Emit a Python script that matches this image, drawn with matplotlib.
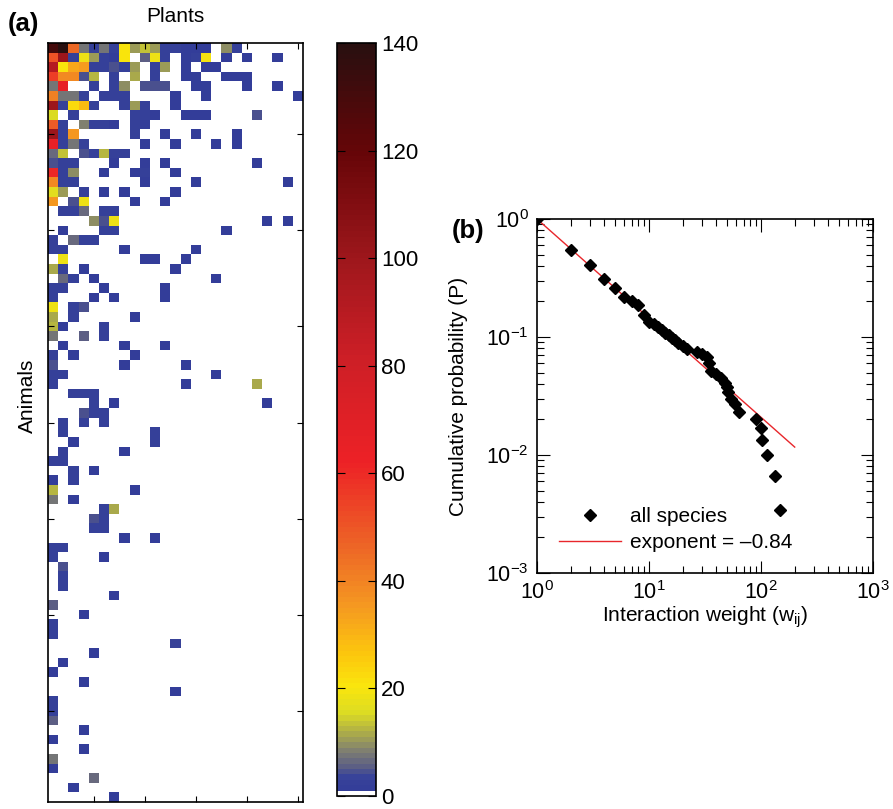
import matplotlib
matplotlib.use('Agg')
import matplotlib.pyplot as plt
from matplotlib.colors import LinearSegmentedColormap
import numpy as np

plt.rcParams['font.family'] = ['Liberation Sans', 'DejaVu Sans']
plt.rcParams['mathtext.fontset'] = 'custom'
plt.rcParams['mathtext.rm'] = 'Liberation Sans'
plt.rcParams['mathtext.it'] = 'Liberation Sans:italic'

# (a) interaction matrix: per animal (row), list of (plant column, weight)
n_plants = 25
animal_links = [
    [(0,130),(1,140),(2,45),(3,7),(4,2),(5,7),(6,2),(7,20),(8,10),(9,13),(10,10),(11,2),(12,2),(13,1),(14,1),(15,1),(17,9),(18,2)],
    [(0,50),(1,100),(2,2),(3,18),(4,10),(5,2),(6,1),(7,20),(9,5),(10,18),(11,2),(13,1),(14,2),(15,19),(17,1),(19,1),(22,1)],
    [(0,90),(1,20),(2,32),(3,34),(4,2),(5,2),(6,4),(7,2),(8,10),(10,2),(11,10),(13,1),(15,1),(16,1)],
    [(0,55),(1,38),(2,38),(3,4),(4,12),(6,2),(8,11),(10,2),(13,1),(14,1),(17,1),(18,1),(19,1)],
    [(0,7),(1,65),(4,2),(6,2),(7,9),(9,4),(10,4),(11,4),(14,1),(15,1),(19,1),(22,1)],
    [(0,40),(1,7),(2,7),(3,2),(5,2),(6,2),(7,2),(12,1),(15,1),(24,1)],
    [(0,100),(1,2),(2,22),(3,28),(4,2),(7,2),(8,10),(9,2),(12,1)],
    [(0,15),(2,2),(8,2),(9,2),(10,1),(13,1),(14,1),(15,1),(20,4)],
    [(0,48),(1,2),(3,8),(4,2),(5,2),(6,1),(8,2),(9,1)],
    [(0,100),(1,2),(2,35),(8,2),(11,1),(14,1),(18,1)],
    [(0,65),(1,2),(2,7),(3,2),(9,1),(12,1),(16,1),(18,1)],
    [(0,6),(1,13),(3,4),(4,2),(5,12),(6,2),(7,2)],
    [(0,4),(1,2),(2,2),(6,1),(9,1),(11,1),(20,1)],
    [(0,60),(1,2),(2,9),(5,1),(8,1),(9,2),(12,1)],
    [(0,38),(1,2),(2,2),(9,1),(14,1),(23,1)],
    [(0,16),(1,10),(3,2),(5,1),(7,1),(12,1)],
    [(0,35),(2,4),(3,18),(8,1),(11,1)],
    [(1,2),(2,2),(3,6),(5,2),(6,2)],
    [(4,9),(5,4),(6,18),(21,1),(23,1)],
    [(1,1),(5,2),(6,2),(17,1)],
    [(0,2),(2,6),(3,2),(4,2)],
    [(0,2),(1,2),(7,1),(14,1)],
    [(1,18),(9,1),(10,1),(13,1)],
    [(0,11),(1,2),(3,1),(12,1)],
    [(1,6),(2,2),(4,1),(16,1)],
    [(0,2),(1,2),(5,1),(11,1)],
    [(0,2),(4,1),(6,1),(11,1)],
    [(0,18),(2,2),(3,4)],
    [(0,11),(2,2),(8,1)],
    [(0,12),(1,1),(5,2)],
    [(0,7),(3,5),(5,2)],
    [(1,1),(7,1),(11,1)],
    [(0,2),(2,1),(8,1)],
    [(0,4),(7,1),(13,1)],
    [(0,2),(1,2),(16,1)],
    [(0,2),(13,1),(20,11)],
    [(2,2),(3,2),(4,2)],
    [(4,2),(6,1),(21,1)],
    [(3,4),(4,2),(5,2)],
    [(1,2),(3,2),(5,2)],
    [(1,2),(10,2)],
    [(2,1),(10,2)],
    [(1,2),(7,1)],
    [(0,2),(1,2)],
    [(2,2),(4,1)],
    [(0,1),(2,2)],
    [(0,12),(8,1)],
    [(0,7),(2,1)],
    [(5,2),(6,11)],
    [(4,4),(5,2)],
    [(4,2),(5,2)],
    [(7,1),(10,1)],
    [(0,2),(1,2)],
    [(0,2),(5,1)],
    [(1,4)],
    [(1,2)],
    [(1,2)],
    [(6,1)],
    [(0,5)],
    [(3,1)],
    [(0,2)],
    [(0,2)],
    [(12,3)],
    [(4,1)],
    [(1,1)],
    [(0,1)],
    [(3,1)],
    [(12,1)],
    [(0,2)],
    [(0,2)],
    [(0,5)],
    [(3,1)],
    [(0,1)],
    [(3,1)],
    [(0,7)],
    [(0,1)],
    [(4,6)],
    [(2,1)],
    [(6,1)],
]
cbar_ticks = [0, 20, 40, 60, 80, 100, 120, 140]

# (b) cumulative distribution of interaction weights
wij = [1, 2, 3, 4, 5, 6, 7, 8, 9, 10, 11, 12, 13, 14, 15, 16, 17, 18, 20, 22,
       27, 30, 33, 34, 36, 40, 44, 48, 50, 51, 54, 58, 64, 90, 101, 103, 114, 133, 147]
cum_p = [1.0, 0.55, 0.41, 0.31, 0.26, 0.22, 0.20, 0.185, 0.155, 0.135, 0.128, 0.121, 0.115,
         0.109, 0.103, 0.098, 0.094, 0.089, 0.084, 0.079,
         0.075, 0.072, 0.068, 0.060, 0.052, 0.049, 0.045, 0.041, 0.038, 0.034, 0.030, 0.027,
         0.023, 0.020, 0.0168, 0.0134, 0.010, 0.0066, 0.0034]
fit_exponent = -0.84
fit_range = (1, 200)

matrix = np.zeros((len(animal_links), n_plants))
for r, links in enumerate(animal_links):
    for c, w in links:
        matrix[r, c] = w

cmap = LinearSegmentedColormap.from_list('web', [
    (0.0, (1, 1, 1)), (0.005, (1, 1, 1)), (0.0051, (0.20, 0.24, 0.60)),
    (3/140, (0.22, 0.26, 0.60)), (5/140, (0.36, 0.37, 0.52)),
    (8/140, (0.50, 0.50, 0.44)), (11/140, (0.66, 0.66, 0.30)),
    (15/140, (0.86, 0.86, 0.14)), (20/140, (0.98, 0.90, 0.05)),
    (26/140, (0.99, 0.78, 0.05)), (35/140, (0.96, 0.60, 0.13)),
    (46/140, (0.93, 0.40, 0.15)), (62/140, (0.93, 0.13, 0.15)),
    (82/140, (0.80, 0.12, 0.15)), (100/140, (0.62, 0.09, 0.11)),
    (120/140, (0.40, 0.02, 0.03)), (1.0, (0.16, 0.06, 0.06))], N=140)

fig = plt.figure(figsize=(8.93, 8.09), dpi=100)
W, H = 893, 809

ax = fig.add_axes([48/W, 1-802/H, 255/W, 759/H])
im = ax.imshow(matrix, cmap=cmap, vmin=0, vmax=140, aspect='auto',
               interpolation='nearest')
ax.set_xticks(np.arange(4, n_plants, 5))
ax.set_yticks(np.arange(9, len(animal_links), 10))
ax.set_xticklabels([])
ax.set_yticklabels([])
ax.tick_params(direction='in', length=4, top=True, right=True, width=0.8)
for s in ax.spines.values():
    s.set_linewidth(1.2)

fig.text(175.5/W, 1-17/H, 'Plants', ha='center', va='center', fontsize=15)
fig.text(27/W, 1-396/H, 'Animals', ha='center', va='center', rotation=90, fontsize=15)
fig.text(8/W, 1-24/H, '(a)', ha='left', va='center', fontsize=18.5, fontweight='bold')

cax = fig.add_axes([337/W, 1-796/H, 39/W, 753/H])
cb = fig.colorbar(im, cax=cax, ticks=cbar_ticks)
cax.tick_params(direction='in', length=6, left=True, right=True, labelsize=16, width=0.8)
cb.outline.set_linewidth(1.2)

bx = fig.add_axes([537/W, 1-573/H, 336/W, 354/H])
xf = np.logspace(np.log10(fit_range[0]), np.log10(fit_range[1]), 50)
bx.plot(wij, cum_p, 'D', color='black', ms=6.5, label='all species', zorder=3)
bx.plot(xf, xf**fit_exponent, color='#e8262b', lw=1, label='exponent = \u20130.84', zorder=2)
bx.set_xscale('log')
bx.set_yscale('log')
bx.set_xlim(1, 1000)
bx.set_ylim(1e-3, 1)
bx.tick_params(which='both', direction='in', top=True, right=True, labelsize=15.5)
bx.tick_params(which='major', length=9, width=0.8)
bx.tick_params(which='minor', length=5, width=0.8)
bx.tick_params(axis='x', pad=6)
bx.tick_params(axis='y', pad=6)
for s in bx.spines.values():
    s.set_linewidth(1.2)
bx.set_xlabel('Interaction weight (w$_{\\rm ij}$)', fontsize=15, labelpad=0)
bx.set_ylabel('Cumulative probability (P)', fontsize=15)
bx.yaxis.set_label_coords(-0.205, 0.5)
bx.legend(loc='lower left', bbox_to_anchor=(0.065, 0.058), frameon=False, fontsize=15,
          handlelength=3.0, handletextpad=0.4, borderpad=0, labelspacing=0.35,
          borderaxespad=0)
fig.text(452/W, 1-231/H, '(b)', ha='left', va='center', fontsize=18.5, fontweight='bold')

plt.savefig('out.png', dpi=100)
